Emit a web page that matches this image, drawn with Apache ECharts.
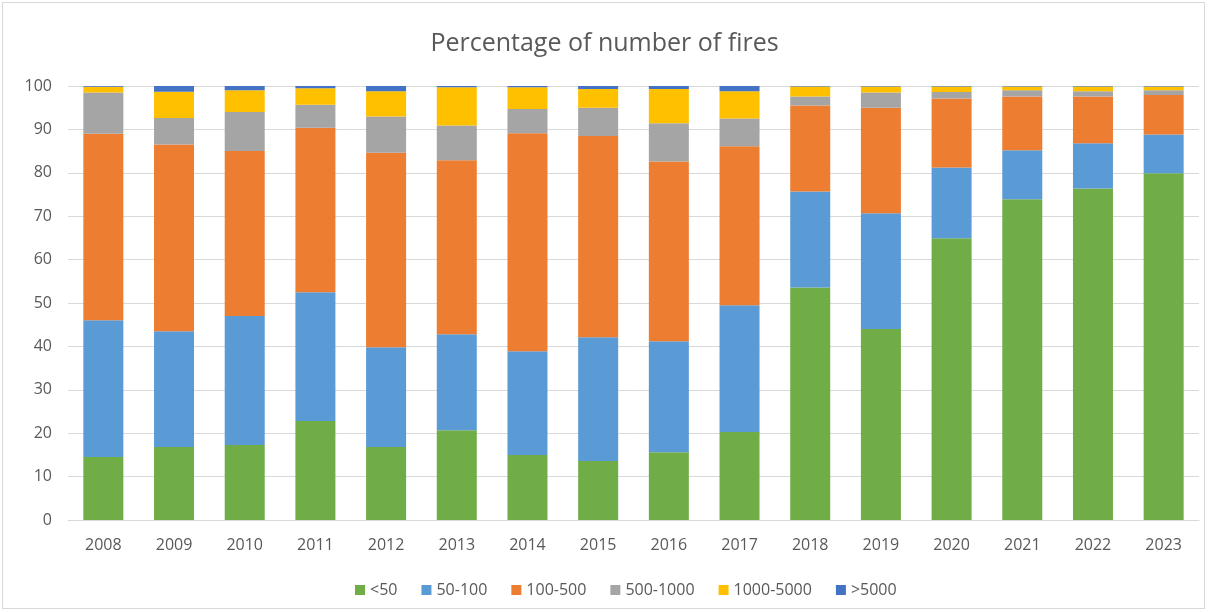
<!DOCTYPE html>
<html>
<head>
<meta charset="utf-8">
<script src="https://cdn.jsdelivr.net/npm/echarts@6/dist/echarts.min.js"></script>
<style>
  html, body { margin: 0; padding: 0; background: #fff; }
  #frame { position: absolute; left: 2px; top: 2px; width: 1203px; height: 607px; border: 1px solid #d9d9d9; box-sizing: border-box; }
  #chart { position: absolute; left: 0; top: 0; width: 1209px; height: 613px; }
</style>
</head>
<body>
<div id="frame"></div>
<div id="chart"></div>
<script>
// years on the x axis
const years = ['2008','2009','2010','2011','2012','2013','2014','2015','2016','2017','2018','2019','2020','2021','2022','2023'];

// share of fires per size class (%)
const lt50      = [14.5, 16.8, 17.3, 22.8, 16.8, 20.7, 15.0, 13.6, 15.6, 20.3, 53.6, 44.0, 64.9, 73.9, 76.4, 79.9];
const s50_100   = [31.5, 26.7, 29.7, 29.7, 23.0, 22.1, 23.9, 28.5, 25.6, 29.2, 22.1, 26.7, 16.3, 11.3, 10.4,  8.9];
const s100_500  = [43.0, 43.0, 38.0, 37.9, 44.8, 40.1, 50.2, 46.4, 41.4, 36.6, 19.8, 24.3, 15.9, 12.4, 10.8,  9.1];
const s500_1000 = [ 9.5,  6.1,  9.0,  5.3,  8.4,  8.0,  5.6,  6.5,  8.8,  6.4,  2.1,  3.5,  1.5,  1.4,  1.2,  1.1];
const s1000_5000= [ 1.3,  6.1,  5.0,  3.8,  5.8,  8.8,  5.0,  4.3,  7.9,  6.3,  2.3,  1.4,  1.3,  0.9,  1.1,  0.9];
const gt5000    = [ 0.2,  1.3,  1.0,  0.5,  1.2,  0.3,  0.3,  0.7,  0.7,  1.2,  0.1,  0.1,  0.1,  0.1,  0.1,  0.1];

const seriesNames = ['<50', '50-100', '100-500', '500-1000', '1000-5000', '>5000'];
const colors = ['#70AD47', '#5B9BD5', '#ED7D31', '#A5A5A5', '#FFC000', '#4472C4'];
const seriesData = [lt50, s50_100, s100_500, s500_1000, s1000_5000, gt5000];

const myChart = echarts.init(document.getElementById('chart'));

let option = {
  animation: false,
  color: colors,
  textStyle: { fontFamily: 'Open Sans' },
  title: {
    text: 'Percentage of number of fires',
    left: 'center',
    top: 26,
    textStyle: { fontSize: 25, fontWeight: 'normal', color: '#595959', fontFamily: 'Open Sans' }
  },
  legend: {
    data: seriesNames,
    top: 577,
    left: 350,
    itemWidth: 10,
    itemHeight: 10,
    itemGap: 24,
    icon: 'rect',
    textStyle: { fontSize: 16, color: '#595959' }
  },
  grid: { left: 68, right: 10, top: 86, bottom: 93 },
  xAxis: {
    type: 'category',
    data: years,
    axisTick: { show: false },
    axisLine: { lineStyle: { color: '#d9d9d9', width: 1 } },
    axisLabel: { color: '#595959', fontSize: 16, margin: 17 }
  },
  yAxis: {
    type: 'value',
    min: 0,
    max: 100,
    interval: 10,
    axisLine: { show: false },
    axisTick: { show: false },
    splitLine: { lineStyle: { color: '#d9d9d9', width: 1 } },
    axisLabel: { color: '#595959', fontSize: 16, margin: 16 }
  },
  series: seriesNames.map((name, i) => ({
    name: name,
    type: 'bar',
    stack: 'total',
    barWidth: 40,
    data: seriesData[i]
  }))
};

myChart.setOption(option);
</script>
</body>
</html>
